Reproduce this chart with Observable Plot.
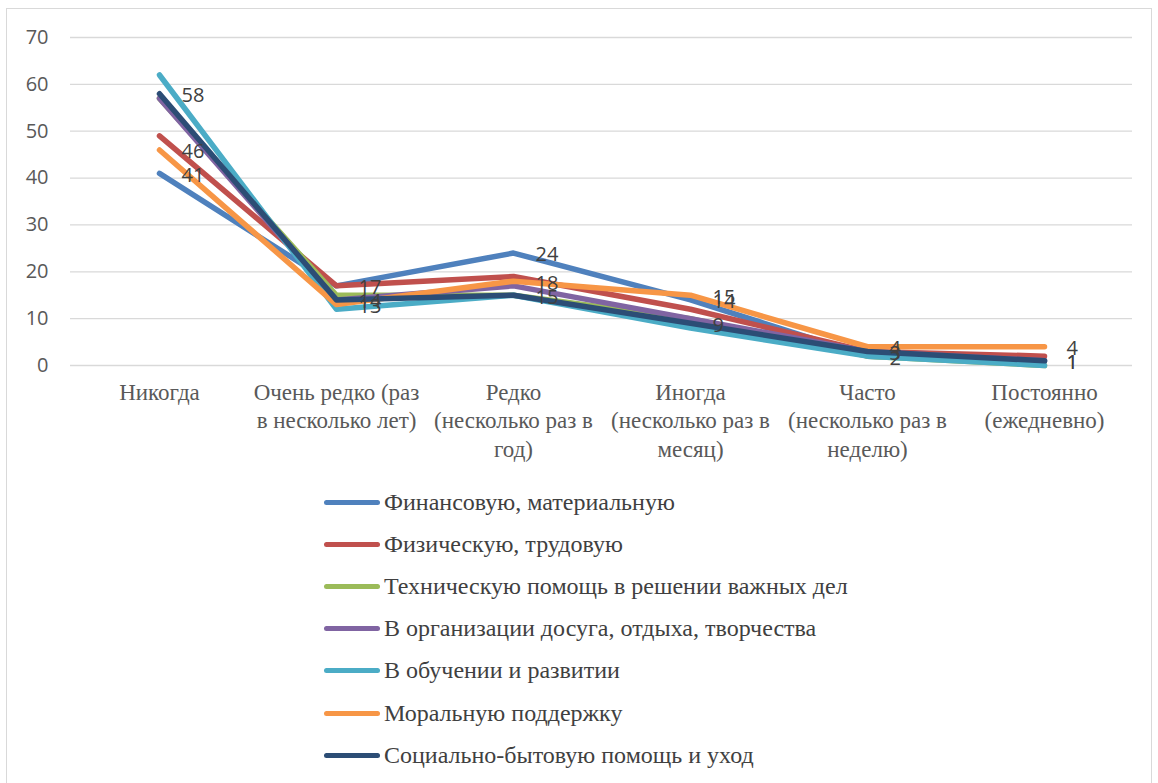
<!DOCTYPE html>
<html>
<head>
<meta charset="utf-8">
<script src="https://cdn.jsdelivr.net/npm/d3@7"></script>
<script src="https://cdn.jsdelivr.net/npm/@observablehq/plot@0.6"></script>
<style>
  html, body { margin: 0; padding: 0; background: #fff; }
  #frame { position: absolute; left: 6px; top: 8px; width: 1146px; height: 790px; border: 1px solid #D9D9D9; box-sizing: border-box; }
  #chart { position: absolute; left: 0; top: 0; }
  #legend { position: absolute; left: 324px; top: 481px; font-family: "Times New Roman", "Liberation Serif", Tinos, "DejaVu Serif", "Noto Serif", serif; font-size: 24px; color: #404040; }
  .item { display: flex; align-items: center; height: 42.2px; }
  .sw { width: 56px; height: 5px; border-radius: 3px; margin-right: 4px; }
</style>
</head>
<body>
<div id="frame"></div>
<div id="chart"></div>
<div id="legend"></div>
<script>
const categories = [
  "Никогда",
  "Очень редко (раз в несколько лет)",
  "Редко (несколько раз в год)",
  "Иногда (несколько раз в месяц)",
  "Часто (несколько раз в неделю)",
  "Постоянно (ежедневно)"
];
const categoryLabels = [
  "Никогда",
  "Очень редко (раз\nв несколько лет)",
  "Редко\n(несколько раз в\nгод)",
  "Иногда\n(несколько раз в\nмесяц)",
  "Часто\n(несколько раз в\nнеделю)",
  "Постоянно\n(ежедневно)"
];
const seriesNames = [
  "Финансовую, материальную",
  "Физическую, трудовую",
  "Техническую помощь в решении важных дел",
  "В организации досуга, отдыха, творчества",
  "В обучении и развитии",
  "Моральную поддержку",
  "Социально-бытовую помощь и уход"
];
const financial = [41, 17, 24, 14, 2, 1];
const physical  = [49, 17, 19, 12, 3, 2];
const technical = [57, 15, 15, 10, 2, 0];
const leisure   = [57, 14, 17, 10, 3, 1];
const education = [62, 12, 15, 8, 2, 0];
const moral     = [46, 13, 18, 15, 4, 4];
const social    = [58, 14, 15, 9, 3, 1];
const seriesValues = [financial, physical, technical, leisure, education, moral, social];
const colors = ["#4F81BD", "#C0504D", "#9BBB59", "#8064A2", "#4BACC6", "#F79646", "#2C4D75"];
const labelledSeries = ["Финансовую, материальную", "Моральную поддержку", "Социально-бытовую помощь и уход"];
const yTicks = [0, 10, 20, 30, 40, 50, 60, 70];

const rows = [];
seriesNames.forEach((s, i) => {
  seriesValues[i].forEach((v, j) => rows.push({series: s, category: categories[j], value: v}));
});
const labelRows = rows.filter(d => labelledSeries.includes(d.series));
const labelMap = new Map(categories.map((c, i) => [c, categoryLabels[i]]));

const serif = "'Times New Roman', 'Liberation Serif', Tinos, 'DejaVu Serif', 'Noto Serif', serif";

const chart = Plot.plot({
  width: 1158,
  height: 470,
  marginLeft: 70,
  marginRight: 26,
  marginTop: 37,
  marginBottom: 105,
  style: {background: "transparent", overflow: "visible"},
  x: {type: "point", domain: categories, padding: 0.5},
  y: {domain: [0, 70]},
  color: {domain: seriesNames, range: colors},
  marks: [
    Plot.gridY(yTicks, {stroke: "#D9D9D9", strokeOpacity: 1, strokeWidth: 1.3}),
    Plot.axisY(yTicks, {tickSize: 0, tickPadding: 22, fontSize: 20, fontFamily: "Open Sans", fill: "#595959", label: null}),
    Plot.axisX({tickSize: 0, tickPadding: 14, tickFormat: d => labelMap.get(d), fontSize: 23, fontFamily: serif, lineHeight: 1.24, fill: "#595959", label: null}),
    Plot.line(rows, {x: "category", y: "value", z: "series", stroke: "series", strokeWidth: 5.5, strokeLinecap: "round", strokeLinejoin: "round"}),
    Plot.text(labelRows, {x: "category", y: "value", text: d => String(d.value), dx: 22, dy: 2, textAnchor: "start", fontSize: 20, fontFamily: "Open Sans", fill: "#404040"})
  ]
});
document.getElementById("chart").appendChild(chart);

const legend = document.getElementById("legend");
seriesNames.forEach((s, i) => {
  const item = document.createElement("div");
  item.className = "item";
  const sw = document.createElement("div");
  sw.className = "sw";
  sw.style.background = colors[i];
  const t = document.createElement("span");
  t.textContent = s;
  item.appendChild(sw);
  item.appendChild(t);
  legend.appendChild(item);
});
</script>
</body>
</html>
